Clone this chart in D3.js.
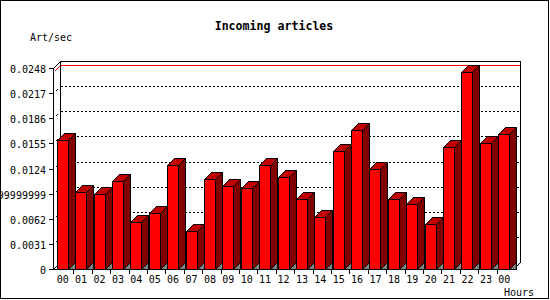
<!DOCTYPE html>
<html>
<head>
<meta charset="utf-8">
<script src="https://cdn.jsdelivr.net/npm/d3@7"></script>
<style>
  body { margin: 0; background: #fff; }
  text { font-family: "DejaVu Sans Mono", monospace; font-size: 10px; fill: #000; }
</style>
</head>
<body>
<div id="chart"></div>
<script>
const hours = ["00", "01", "02", "03", "04", "05", "06", "07", "08", "09", "10", "11",
    "12", "13", "14", "15", "16", "17", "18", "19", "20", "21", "22", "23", "00"];
const artPerSec = [0.0159, 0.0095, 0.0092, 0.0108, 0.0058, 0.0069, 0.0128, 0.0047,
    0.0111, 0.0103, 0.0100, 0.0128, 0.0114, 0.0086, 0.0064, 0.0145, 0.0172, 0.0123,
    0.0086, 0.0080, 0.0055, 0.0150, 0.0243, 0.0156, 0.0166];
const yTicks = [0, 0.0031, 0.0062, 0.0093, 0.0124, 0.0155, 0.0186, 0.0217, 0.0248];
const yTickLabels = ["0", "0.0031", "0.0062", "0.009299999999999999", "0.0124",
    "0.0155", "0.0186", "0.0217", "0.0248"];

const width = 550, height = 300;
const depth = 7; // 3d offset, right and up
const plotLeft = 53, plotRight = 513, plotBottom = 269, plotTop = 68;

const svg = d3.select("#chart").append("svg")
    .attr("width", width)
    .attr("height", height)
    .attr("shape-rendering", "crispEdges");

const xScale = d3.scaleBand()
    .domain(d3.range(hours.length))
    .range([plotLeft + 1, plotRight + 1])
    .padding(0);

const yScale = d3.scaleLinear()
    .domain([0, yTicks[yTicks.length - 1]])
    .range([plotBottom, plotTop]);

const px = v => Math.round(v) + 0.5;
const y0 = px(plotBottom);
const xl = px(plotLeft), xr = px(plotRight);

// outer frame
svg.append("rect")
    .attr("x", 0.5).attr("y", 0.5)
    .attr("width", width - 2).attr("height", height - 2)
    .attr("fill", "#fff").attr("stroke", "#000");

// back wall grid lines (dotted)
const grid = svg.append("g");
yTicks.slice(1, -1).forEach(t => {
    const y = px(yScale(t));
    grid.append("line")
        .attr("x1", xl + depth).attr("x2", xr + depth)
        .attr("y1", y - depth).attr("y2", y - depth)
        .attr("stroke", "#000").attr("stroke-dasharray", "2,2");
    grid.append("line")
        .attr("x1", xl + 2).attr("x2", xl + 4)
        .attr("y1", y - 2).attr("y2", y - 4)
        .attr("stroke", "#000");
});

// max value line
const maxY = px(yScale(d3.max(artPerSec)));
svg.append("path")
    .attr("d", `M${xl + 1},${maxY - 1}L${xl + depth},${maxY - depth}H${xr + depth}`)
    .attr("fill", "none").attr("stroke", "#f00");

// walls
const yTop = px(yScale(yTicks[yTicks.length - 1]));
svg.append("path")
    .attr("d", `M${xl},${y0}V${yTop}L${xl + depth},${yTop - depth}H${xr + depth}V${y0 - depth}L${xr},${y0}Z`
        + `M${xl + depth},${yTop - depth}V${y0 - depth}L${xl},${y0}`)
    .attr("fill", "none").attr("stroke", "#000");

// bars
const barW = 11;
const bars = svg.append("g");
artPerSec.forEach((v, i) => {
    const x0 = px(xScale(i) + 2.7);
    const x1 = x0 + barW;
    const yt = px(yScale(v));
    const g = bars.append("g").attr("stroke", "#000");
    g.append("polygon")
        .attr("points", [[x1, y0], [x1 + depth, y0 - depth], [x1 + depth, y0]].join(" "))
        .attr("fill", "#808080");
    g.append("polygon")
        .attr("points", [[x1, yt], [x1 + depth, yt - depth], [x1 + depth, y0 - depth], [x1, y0]].join(" "))
        .attr("fill", "#800000");
    g.append("polygon")
        .attr("points", [[x0, yt], [x0 + depth, yt - depth], [x1 + depth, yt - depth], [x1, yt]].join(" "))
        .attr("fill", "#c00000");
    g.append("rect")
        .attr("x", x0).attr("y", yt)
        .attr("width", barW).attr("height", y0 - yt)
        .attr("fill", "#f00");
});

// front axes
svg.append("path")
    .attr("d", `M${xl},${yTop}V${y0}H${xr}`)
    .attr("fill", "none").attr("stroke", "#000");

// y ticks + labels
yTicks.forEach((t, i) => {
    const y = px(yScale(t));
    svg.append("line")
        .attr("x1", xl - 5).attr("x2", xl)
        .attr("y1", y).attr("y2", y)
        .attr("stroke", "#000");
    svg.append("text")
        .attr("x", 46).attr("y", y + 4)
        .attr("text-anchor", "end")
        .text(yTickLabels[i]);
});

// x ticks + labels
hours.forEach((h, i) => {
    const xt = px(xScale(i) + xScale.step() + 1);
    if (i < hours.length - 1) {
        svg.append("line")
            .attr("x1", xt).attr("x2", xt)
            .attr("y1", y0).attr("y2", y0 + 4)
            .attr("stroke", "#000");
    }
    svg.append("text")
        .attr("x", xScale(i) + 2.7 + barW / 2 + 0.5)
        .attr("y", 283)
        .attr("text-anchor", "middle")
        .text(h);
});

// titles
svg.append("text")
    .attr("x", 274).attr("y", 30)
    .attr("text-anchor", "middle")
    .attr("font-weight", "bold")
    .style("font-size", "11.6px")
    .text("Incoming articles");

svg.append("text")
    .attr("x", 30).attr("y", 41)
    .text("Art/sec");

svg.append("text")
    .attr("x", 534).attr("y", 296)
    .attr("text-anchor", "end")
    .text("Hours");
</script>
</body>
</html>
